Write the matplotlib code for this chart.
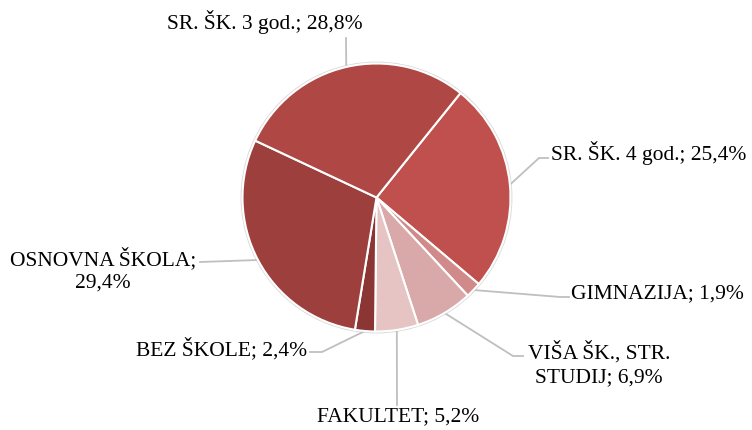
import numpy as np
import matplotlib.pyplot as plt

# data
labels = ['SR. ŠK. 4 god.', 'GIMNAZIJA', 'VIŠA ŠK., STR.\nSTUDIJ', 'FAKULTET',
          'BEZ ŠKOLE', 'OSNOVNA ŠKOLA', 'SR. ŠK. 3 god.']
values = [25.4, 1.9, 6.9, 5.2, 2.4, 29.4, 28.8]
colors = ['#C0504D', '#CF8A89', '#D9A8A8', '#E6C4C4', '#8B3634', '#9D3F3C', '#AF4744']

# label layout (pixel coords, y from top): text anchor, ha, elbow points
label_layout = [
    ((551, 153), 'left', [(539, 158), (548, 158)]),
    ((571, 294), 'left', [(560, 297), (569, 297)]),
    ((599, 364), 'center', [(513, 356), (523, 356)]),
    ((398, 417), 'center', [(397, 405)]),
    ((307, 349), 'right', [(322, 352), (310, 352)]),
    ((103, 270), 'center', [(200, 262)]),
    ((265, 22), 'center', [(346, 38)]),
]

W, H = 752, 430
cx, cy, r = 376.5, 197.5, 134
fig = plt.figure(figsize=(W / 100, H / 100), dpi=100)
ax = fig.add_axes([0, 0, 1, 1])

start = 90 - 38.8
wedges, _ = ax.pie(values, colors=colors, startangle=start, counterclock=False,
                   center=(cx, H - cy), radius=r, frame=True,
                   wedgeprops=dict(edgecolor='white', linewidth=1.5))
ax.add_patch(plt.Circle((cx, H - cy), r + 1.2, fill=False, edgecolor='#D9D9D9', lw=1, zorder=0))
ax.set_xlim(0, W)
ax.set_ylim(0, H)
ax.set_aspect('equal')
ax.axis('off')

for w, lab, val, (pos, ha, elbow) in zip(wedges, labels, values, label_layout):
    mid = np.deg2rad((w.theta1 + w.theta2) / 2)
    ex, ey = cx + r * np.cos(mid), H - cy + r * np.sin(mid)
    xs = [ex] + [p[0] for p in elbow]
    ys = [ey] + [H - p[1] for p in elbow]
    ax.plot(xs, ys, color='#BFBFBF', lw=1.3, zorder=0)
    pct = ('%.1f' % val).replace('.', ',') + '%'
    sep = ';\n' if lab == 'OSNOVNA ŠKOLA' else '; '
    ax.text(pos[0], H - pos[1], lab + sep + pct, ha=ha, va='center', fontsize=15.5,
            family='Liberation Serif', color='black', linespacing=1.3,
            multialignment='center')

fig.savefig('out.png', dpi=100)
